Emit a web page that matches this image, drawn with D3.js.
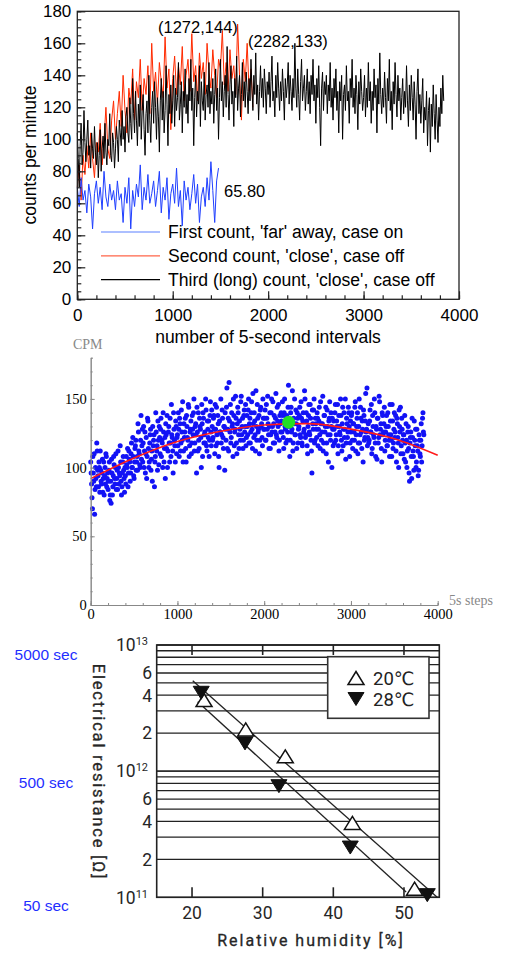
<!DOCTYPE html>
<html>
<head>
<meta charset="utf-8">
<script src="https://cdn.jsdelivr.net/npm/d3@7"></script>
<style>
  body { margin: 0; background: #fff; }
  text { fill: #000; }
</style>
</head>
<body>
<svg id="chart" width="506" height="953"></svg>
<script>
// ---- data ----
// third (long) count, one reading every 10 intervals (0 .. 3840)
var thirdCount = [
  104, 88, 70, 96, 110, 84, 92, 118, 98, 86, 100, 112, 90, 96, 82, 104, 94, 88, 108, 92,
  84, 98, 76, 90, 106, 80, 94, 102, 88, 110, 92, 84, 100, 96, 116, 90, 86, 104, 98, 82,
  94, 108, 100, 86, 112, 104, 96, 118, 100, 108, 92, 114, 120, 104, 98, 126, 110, 100, 138, 116,
  104, 130, 112, 96, 122, 108, 134, 100, 118, 128, 106, 90, 116, 124, 104, 140, 112, 98, 120, 130,
  110, 136, 120, 100, 126, 114, 92, 124, 138, 112, 130, 104, 118, 146, 122, 96, 128, 116, 134, 110,
  124, 140, 108, 132, 118, 126, 148, 112, 122, 136, 104, 130, 120, 144, 116, 128, 110, 138, 124, 150,
  118, 132, 96, 126, 140, 114, 130, 122, 146, 108, 136, 124, 118, 142, 112, 128, 134, 120, 148, 116,
  130, 122, 138, 110, 128, 144, 118, 132, 100, 126, 150, 124, 136, 114, 130, 140, 120, 158, 128, 112,
  134, 146, 122, 130, 108, 138, 126, 152, 118, 132, 140, 114, 128, 148, 124, 136, 120, 142, 130, 116,
  138, 124, 150, 132, 118, 140, 128, 154, 122, 134, 112, 130, 146, 126, 138, 120, 144, 132, 116, 136,
  128, 142, 120, 136, 152, 124, 130, 114, 140, 126, 148, 132, 118, 136, 124, 144, 130, 112, 138, 126,
  134, 148, 122, 140, 130, 118, 138, 126, 160, 132, 120, 144, 128, 112, 136, 150, 124, 132, 140, 118,
  130, 144, 122, 136, 116, 140, 128, 150, 124, 134, 110, 138, 126, 146, 120, 96, 132, 142, 118, 136,
  128, 140, 116, 134, 124, 148, 120, 132, 112, 138, 126, 144, 118, 130, 104, 136, 124, 140, 100, 128,
  134, 118, 146, 124, 130, 110, 138, 126, 150, 120, 132, 116, 140, 128, 106, 136, 122, 144, 130, 118,
  126, 140, 114, 132, 120, 148, 124, 136, 110, 130, 118, 144, 126, 134, 104, 138, 122, 154, 128, 116,
  132, 120, 142, 126, 110, 138, 124, 150, 118, 130, 106, 136, 122, 148, 128, 114, 140, 124, 132, 112,
  126, 138, 116, 130, 120, 146, 124, 108, 134, 118, 140, 126, 112, 136, 122, 100, 130, 144, 116, 128,
  110, 124, 138, 104, 120, 112, 130, 96, 118, 126, 92, 122, 108, 134, 116, 100, 128, 112, 98, 120,
  108, 132, 116, 140, 124
];
// the readings in between (5, 15, .. 3835), only shown in the CPM scatter
var thirdCountMid = [
  96, 78, 108, 90, 66, 100, 86, 112, 94, 104, 82, 98, 88, 106, 92, 80, 100, 110, 86, 96,
  90, 104, 80, 74, 96, 86, 108, 92, 100, 84, 98, 112, 88, 94, 104, 80, 96, 108, 92, 100,
  88, 102, 114, 96, 106, 90, 110, 100, 122, 94, 104, 116, 98, 108, 132, 112, 102, 120, 106, 128,
  118, 100, 126, 110, 92, 136, 114, 104, 124, 98, 112, 130, 120, 86, 108, 126, 116, 134, 102, 122,
  128, 108, 118, 140, 104, 122, 132, 114, 100, 126, 118, 136, 108, 124, 112, 140, 120, 104, 130, 122,
  116, 128, 136, 112, 142, 120, 104, 132, 126, 114, 138, 122, 146, 108, 126, 134, 118, 128, 140, 112,
  130, 124, 144, 112, 120, 136, 128, 100, 132, 140, 118, 126, 150, 116, 134, 122, 108, 138, 126, 142,
  120, 136, 128, 146, 116, 124, 138, 108, 134, 126, 118, 142, 122, 130, 98, 128, 144, 114, 136, 162,
  126, 118, 140, 132, 150, 116, 128, 136, 110, 144, 124, 134, 120, 152, 130, 114, 138, 126, 146, 122,
  130, 142, 118, 136, 126, 148, 114, 132, 140, 124, 156, 120, 136, 128, 110, 142, 130, 122, 150, 128,
  136, 120, 146, 128, 132, 114, 140, 124, 150, 130, 118, 138, 126, 154, 122, 134, 146, 120, 132, 140,
  126, 138, 114, 150, 128, 136, 120, 144, 130, 108, 140, 126, 156, 118, 132, 124, 142, 114, 136, 128,
  138, 124, 148, 118, 134, 126, 156, 122, 140, 116, 130, 146, 124, 136, 112, 142, 128, 150, 120, 132,
  122, 136, 128, 144, 114, 132, 126, 152, 118, 138, 130, 110, 142, 124, 134, 148, 120, 130, 136, 116,
  128, 140, 120, 134, 146, 116, 130, 124, 138, 112, 144, 128, 122, 150, 118, 132, 126, 140, 108, 134,
  138, 120, 132, 126, 144, 112, 130, 140, 118, 150, 124, 136, 114, 128, 142, 120, 134, 126, 158, 122,
  118, 134, 126, 146, 114, 130, 122, 140, 108, 128, 136, 118, 152, 124, 132, 104, 138, 126, 144, 120,
  130, 116, 140, 124, 108, 134, 120, 146, 114, 128, 122, 138, 104, 132, 118, 142, 126, 110, 136, 120,
  124, 106, 118, 132, 100, 126, 114, 90, 122, 108, 136, 112, 98, 120, 128, 104, 116, 94, 124, 110,
  120, 104, 136, 126
];
// second count, one reading every 20 intervals (0 .. 1840)
var secondCount = [
  70, 84, 62, 90, 78, 96, 82, 104, 88, 76, 98, 92, 110, 84, 100, 120, 94, 88, 112, 124,
  100, 116, 130, 108, 140, 118, 104, 132, 122, 144, 112, 136, 126, 150, 118, 138, 128, 146, 116, 160,
  130, 142, 122, 148, 136, 126, 164, 132, 144, 106, 138, 152, 128, 146, 134, 158, 124, 140, 150, 130,
  166, 136, 146, 124, 154, 138, 148, 128, 160, 142, 132, 156, 140, 126, 150, 144, 168, 134, 148, 130,
  156, 138, 146, 128, 172, 140, 112, 150, 136, 160, 130, 144, 120
];
// first count, one reading every 20 intervals (0 .. 1480)
var firstCount = [
  70, 58, 76, 62, 68, 54, 72, 64, 44, 66, 74, 60, 70, 56, 80, 64, 58, 72, 62, 68,
  56, 74, 62, 66, 48, 70, 60, 76, 44, 68, 58, 72, 64, 84, 56, 70, 62, 78, 60, 66,
  74, 58, 68, 80, 54, 70, 62, 76, 50, 66, 72, 60, 82, 58, 68, 46, 74, 62, 70, 56,
  66, 78, 60, 72, 48, 64, 70, 58, 76, 62, 86, 68, 48, 74, 82
];
var legendLabels = ["First count, 'far' away, case on", "Second count, 'close', case off", "Third (long) count, 'close', case off"];

// quadratic fit
var fitSteps = [0, 500, 1000, 1500, 2000, 2500, 3000, 3500, 4000];
var fitCpm = [92, 107, 119, 126.5, 131, 132, 128, 121, 109];
var peak = [2282, 133];

// resistance vs humidity
var humidity20 = [21.7, 27.6, 33.2, 42.7, 51.5];
var resist20 = [3.66e12, 2.14e12, 1.31e12, 3.89e11, 1.17e11];
var humidity28 = [21.3, 27.5, 32.3, 42.4, 53.3];
var resist28 = [4.18e12, 1.66e12, 7.6e11, 2.48e11, 1.04e11];
var fitLine20 = [[20.1, 5.2e12], [54.7, 1.0e11]];
var fitLine28 = [[20.8, 3.55e12], [50.3, 1.1e11]];
var resistTicks = [1e13, 6e12, 4e12, 2e12, 1e12, 6e11, 4e11, 2e11, 1e11];
var timeLabels = ["5000 sec", "500 sec", "50 sec"];

var svg = d3.select("#chart");
var SANS = "'Liberation Sans', Arial, Helvetica, sans-serif";
var SERIF = "'Liberation Serif', 'Times New Roman', serif";
var DIN = "Roboto, 'DejaVu Sans', sans-serif";

function series(arr, step, offset) {
  return arr.map(function(v, i) { return [(offset || 0) + i * step, v]; });
}

drawCounts();
drawCpm();
drawResistance();

// ---------- top: counts per minute ----------
function drawCounts() {
  var x = d3.scaleLinear().domain([0, 4000]).range([77.3, 459]);
  var y = d3.scaleLinear().domain([0, 180]).range([299.3, 11.3]);
  var g = svg.append("g");

  var line = d3.line().x(function(d) { return x(d[0]); }).y(function(d) { return y(d[1]); });

  g.append("path").datum(series(secondCount, 20)).attr("d", line)
    .attr("fill", "none").attr("stroke", "#ff2a00").attr("stroke-width", 1);
  g.append("path").datum(series(thirdCount, 10)).attr("d", line)
    .attr("fill", "none").attr("stroke", "#000").attr("stroke-width", 1);
  g.append("path").datum(series(firstCount, 20)).attr("d", line)
    .attr("fill", "none").attr("stroke", "#1f3fff").attr("stroke-width", 1);

  // box
  g.append("rect").attr("x", x(0)).attr("y", y(180))
    .attr("width", x(4000) - x(0)).attr("height", y(0) - y(180))
    .attr("fill", "none").attr("stroke", "#222").attr("stroke-width", 1.3);

  // axes, ticks pointing inward
  var xa = g.append("g").attr("transform", "translate(0," + y(0) + ")")
    .call(d3.axisBottom(x).tickValues(d3.range(0, 4001, 1000)).tickSizeInner(-8).tickSizeOuter(0).tickPadding(6).tickFormat(d3.format("d")));
  var xm = g.append("g").attr("transform", "translate(0," + y(0) + ")")
    .call(d3.axisBottom(x).tickValues(d3.range(0, 4001, 200)).tickSize(-4).tickFormat(""));
  var ya = g.append("g").attr("transform", "translate(" + x(0) + ",0)")
    .call(d3.axisLeft(y).tickValues(d3.range(0, 181, 20)).tickSizeInner(-8).tickSizeOuter(0).tickPadding(6));
  var ym = g.append("g").attr("transform", "translate(" + x(0) + ",0)")
    .call(d3.axisLeft(y).tickValues(d3.range(0, 181, 5)).tickSize(-4).tickFormat(""));
  [xa, xm, ya, ym].forEach(function(a) {
    a.select(".domain").remove();
    a.selectAll("line").attr("stroke", "#222").attr("stroke-width", 1.2);
    a.selectAll("text").attr("font-family", SANS).attr("font-size", 17).attr("fill", "#000");
  });
  xa.selectAll("text").attr("dy", "0.95em");

  g.append("text").attr("x", 268).attr("y", 343).attr("text-anchor", "middle")
    .attr("font-family", SANS).attr("font-size", 17.5).text("number of 5-second intervals");
  g.append("text").attr("transform", "translate(36,155) rotate(-90)").attr("text-anchor", "middle")
    .attr("font-family", SANS).attr("font-size", 17.5).text("counts per minute");

  // annotations
  g.append("text").attr("x", 158).attr("y", 33).attr("font-family", SANS).attr("font-size", 16.5).text("(1272,144)");
  g.append("text").attr("x", 248).attr("y", 47).attr("font-family", SANS).attr("font-size", 16.5).text("(2282,133)");
  g.append("text").attr("x", 224).attr("y", 197).attr("font-family", SANS).attr("font-size", 16.5).text("65.80");

  // legend
  var legColors = ["#5a80ff", "#ff6448", "#000"];
  var leg = g.selectAll(".leg").data(legendLabels).enter().append("g")
    .attr("transform", function(d, i) { return "translate(101," + (232 + i * 23.8) + ")"; });
  leg.append("line").attr("x1", 0).attr("x2", 59)
    .attr("stroke", function(d, i) { return legColors[i]; }).attr("stroke-width", 1.2);
  leg.append("text").attr("x", 67).attr("dy", "0.36em")
    .attr("font-family", SANS).attr("font-size", 17.6).text(function(d) { return d; });
}

// ---------- middle: CPM scatter with fit ----------
function drawCpm() {
  var x = d3.scaleLinear().domain([0, 4000]).range([90.7, 437.7]);
  var y = d3.scaleLinear().domain([0, 180]).range([605, 357.7]);
  var g = svg.append("g");

  var pts = series(thirdCount, 10).concat(series(thirdCountMid, 10, 5));
  g.selectAll("circle.pt").data(pts).enter().append("circle")
    .attr("class", "pt")
    .attr("cx", function(d) { return x(d[0]); })
    .attr("cy", function(d) { return y(d[1]); })
    .attr("r", 2.5).attr("fill", "#1212f5");

  var fit = fitSteps.map(function(s, i) { return [s, fitCpm[i]]; });
  g.append("path").datum(fit)
    .attr("d", d3.line().curve(d3.curveMonotoneX).x(function(d) { return x(d[0]); }).y(function(d) { return y(d[1]); }))
    .attr("fill", "none").attr("stroke", "#ff1a1a").attr("stroke-width", 1.6);

  g.append("circle").attr("cx", x(peak[0])).attr("cy", y(peak[1])).attr("r", 6.5).attr("fill", "#22e022");

  var xa = g.append("g").attr("transform", "translate(0," + y(0) + ")")
    .call(d3.axisBottom(x).tickValues(d3.range(0, 4001, 1000)).tickSizeInner(-4).tickSizeOuter(0).tickPadding(2).tickFormat(d3.format("d")));
  var xm = g.append("g").attr("transform", "translate(0," + y(0) + ")")
    .call(d3.axisBottom(x).tickValues(d3.range(0, 4001, 200)).tickSize(-2).tickFormat(""));
  var ya = g.append("g").attr("transform", "translate(" + x(0) + ",0)")
    .call(d3.axisLeft(y).tickValues([0, 50, 100, 150]).tickSizeInner(-4).tickSizeOuter(0).tickPadding(4));
  var ym = g.append("g").attr("transform", "translate(" + x(0) + ",0)")
    .call(d3.axisLeft(y).tickValues(d3.range(0, 181, 10)).tickSize(-2).tickFormat(""));
  [xa, xm, ya, ym].forEach(function(a) {
    a.select(".domain").attr("stroke", "#888");
    a.selectAll("line").attr("stroke", "#888");
    a.selectAll("text").attr("font-family", SERIF).attr("font-size", 14.5).attr("fill", "#000");
  });
  xa.selectAll("text").attr("dy", "0.85em");

  g.append("text").attr("x", 73).attr("y", 349).attr("font-family", SERIF).attr("font-size", 14)
    .style("fill", "#888").text("CPM");
  g.append("text").attr("x", 449).attr("y", 605).attr("font-family", SERIF).attr("font-size", 14)
    .style("fill", "#888").text("5s steps");
}

// ---------- bottom: resistance vs humidity ----------
function drawResistance() {
  var x = d3.scaleLinear().domain([15, 55]).range([156.7, 439.3]);
  var y = d3.scaleLog().domain([1e11, 1e13]).range([897.3, 645]);
  var g = svg.append("g");
  var ink = "#262626";

  // grid at every 1..9 multiple
  var grid = [];
  [1e11, 1e12].forEach(function(d) { for (var m = 1; m <= 10; m++) grid.push(m * d); });
  g.selectAll("line.grid").data(grid).enter().append("line").attr("class", "grid")
    .attr("x1", x(15)).attr("x2", x(55))
    .attr("y1", function(d) { return y(d); }).attr("y2", function(d) { return y(d); })
    .attr("stroke", "#222").attr("stroke-width", 1.3);

  // x ticks top and bottom, inward
  [20, 30, 40, 50].forEach(function(v) {
    g.append("line").attr("x1", x(v)).attr("x2", x(v)).attr("y1", y(1e13)).attr("y2", y(1e13) + 10)
      .attr("stroke", "#222").attr("stroke-width", 1.6);
    g.append("line").attr("x1", x(v)).attr("x2", x(v)).attr("y1", y(1e11)).attr("y2", y(1e11) - 10)
      .attr("stroke", "#222").attr("stroke-width", 1.6);
    g.append("text").attr("x", x(v)).attr("y", 919).attr("text-anchor", "middle")
      .attr("font-family", DIN).attr("font-size", 17.5).style("fill", ink).text(v);
  });

  g.append("rect").attr("x", x(15)).attr("y", y(1e13)).attr("width", x(55) - x(15)).attr("height", y(1e11) - y(1e13))
    .attr("fill", "none").attr("stroke", "#222").attr("stroke-width", 1.6);

  // y tick labels
  resistTicks.forEach(function(v) {
    var e = Math.round(Math.log10(v));
    var t = g.append("text").attr("y", y(v)).attr("dy", "0.36em").attr("text-anchor", "end")
      .attr("font-family", DIN).attr("font-size", 17.5).style("fill", ink);
    if (Math.abs(v - Math.pow(10, e)) < 1) {
      t.attr("x", 148);
      t.append("tspan").text("10");
      t.append("tspan").attr("font-size", 11).attr("dy", "-0.55em").text(e);
    } else {
      t.attr("x", 152).text(Math.round(v / Math.pow(10, Math.floor(Math.log10(v)))));
    }
  });

  // fit lines
  var fl = d3.line().x(function(d) { return x(d[0]); }).y(function(d) { return y(d[1]); });
  [fitLine20, fitLine28].forEach(function(l) {
    g.append("path").datum(l).attr("d", fl).attr("stroke", "#222").attr("stroke-width", 1.3).attr("fill", "none");
  });

  var up = "M0,-6.5L8,6.5L-8,6.5Z";
  var down = "M0,6.5L8,-6.5L-8,-6.5Z";
  g.selectAll("path.t20").data(humidity20).enter().append("path").attr("class", "t20")
    .attr("d", up).attr("transform", function(d, i) { return "translate(" + x(d) + "," + y(resist20[i]) + ")"; })
    .attr("fill", "#fff").attr("stroke", "#111").attr("stroke-width", 1.5);
  g.selectAll("path.t28").data(humidity28).enter().append("path").attr("class", "t28")
    .attr("d", down).attr("transform", function(d, i) { return "translate(" + x(d) + "," + y(resist28[i]) + ")"; })
    .attr("fill", "#111").attr("stroke", "#111").attr("stroke-width", 1);

  // legend
  g.append("rect").attr("x", 327.7).attr("y", 656.7).attr("width", 101.3).attr("height", 61.6)
    .attr("fill", "#fff").attr("stroke", "#333").attr("stroke-width", 1.6);
  g.append("path").attr("d", up).attr("transform", "translate(356,678)")
    .attr("fill", "#fff").attr("stroke", "#111").attr("stroke-width", 1.5);
  g.append("path").attr("d", down).attr("transform", "translate(356,699)")
    .attr("fill", "#111").attr("stroke", "#111");
  g.append("text").attr("x", 373).attr("y", 678).attr("dy", "0.36em").attr("font-family", DIN).attr("font-size", 18.5)
    .style("fill", "#222").text("20\u2103");
  g.append("text").attr("x", 373).attr("y", 699).attr("dy", "0.36em").attr("font-family", DIN).attr("font-size", 18.5)
    .style("fill", "#222").text("28\u2103");

  // axis titles
  g.append("text").attr("x", 311).attr("y", 946).attr("text-anchor", "middle")
    .attr("font-family", DIN).attr("font-size", 16).attr("letter-spacing", 2)
    .style("fill", ink).style("stroke", ink).style("stroke-width", 0.3).text("Relative humidity [%]");
  g.append("text").attr("transform", "translate(93,772) rotate(90)").attr("text-anchor", "middle")
    .attr("font-family", DIN).attr("font-size", 16.5).attr("letter-spacing", 1.8)
    .style("fill", ink).style("stroke", ink).style("stroke-width", 0.3).text("Electrical resistance [\u03A9]");

  // time equivalents on the left
  var timeY = [1e13, 1e12, 1e11];
  g.selectAll("text.sec").data(timeLabels).enter().append("text").attr("class", "sec")
    .attr("x", 46).attr("y", function(d, i) { return y(timeY[i]) + [9, 11, 8][i]; })
    .attr("dy", "0.36em").attr("text-anchor", "middle")
    .attr("font-family", SANS).attr("font-size", 15.5).style("fill", "#1f2fff").text(function(d) { return d; });
}
</script>
</body>
</html>
